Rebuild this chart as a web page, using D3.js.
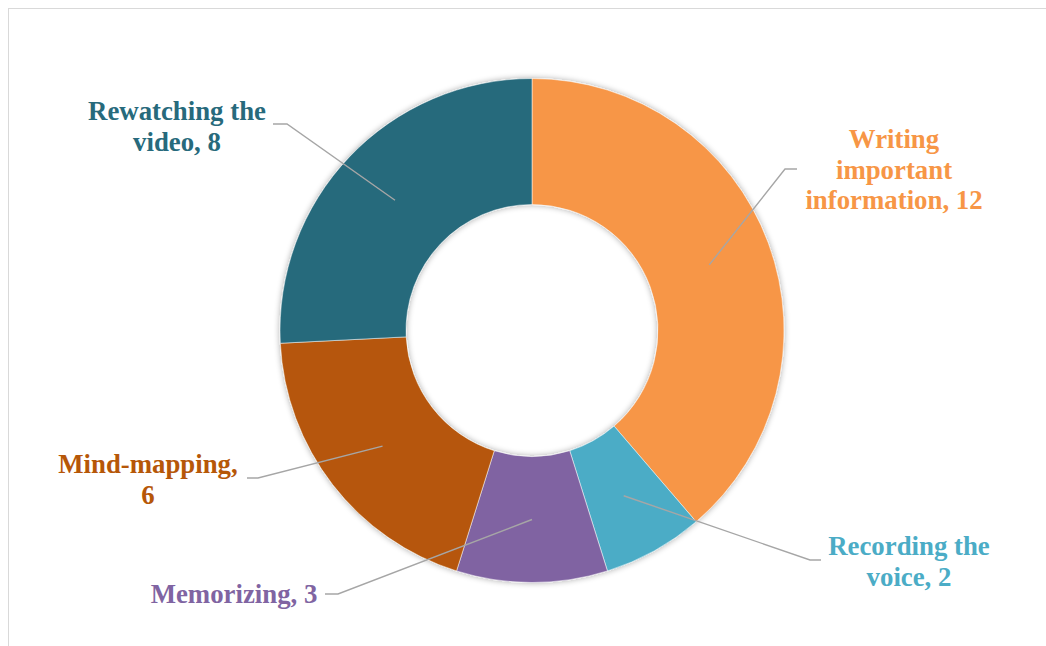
<!DOCTYPE html>
<html>
<head>
<meta charset="utf-8">
<script src="https://cdn.jsdelivr.net/npm/d3@7"></script>
<style>
  html, body { margin: 0; padding: 0; background: #fff; }
  svg { display: block; }
</style>
</head>
<body>
<svg id="chart" width="1046" height="646"></svg>
<script>
// ---- data ----
const categories = ["Writing important information", "Recording the voice", "Memorizing", "Mind-mapping", "Rewatching the video"];
const values = [12, 2, 3, 6, 8];
const colors = ["#F79646", "#4BACC6", "#8064A2", "#B65708", "#276A7C"];
// words per label line
const wrapWords = [[1, 1, 2], [2, 2], [2], [1, 1], [2, 2]];

// ---- layout (label placement) ----
const labelLayout = [
  { x: 894, y: 148, ex: 797, ey: 169, kx: 785 },
  { x: 909, y: 555, ex: 821, ey: 560, kx: 810 },
  { x: 234, y: 603, ex: 325, ey: 594, kx: 338 },
  { x: 148, y: 473, ex: 247, ey: 478, kx: 258 },
  { x: 177, y: 120, ex: 273, ey: 124, kx: 287 }
];
const cx = 532, cy = 330.5, outerR = 252, innerR = 126;
const lineH = 30.5;

const svg = d3.select("#chart");

// frame
svg.append("rect")
  .attr("x", 8.5).attr("y", 8.5)
  .attr("width", 1040).attr("height", 640)
  .attr("fill", "none").attr("stroke", "#d9d9d9").attr("stroke-width", 1);

// shadow filter
const defs = svg.append("defs");
const f = defs.append("filter").attr("id", "shadow")
  .attr("x", "-20%").attr("y", "-20%").attr("width", "140%").attr("height", "140%");
f.append("feGaussianBlur").attr("in", "SourceAlpha").attr("stdDeviation", 3).attr("result", "blur");
f.append("feComponentTransfer").attr("in", "blur").attr("result", "sh")
  .append("feFuncA").attr("type", "linear").attr("slope", 0.35);
const merge = f.append("feMerge");
merge.append("feMergeNode").attr("in", "sh");
merge.append("feMergeNode").attr("in", "SourceGraphic");

const data = categories.map((c, i) => ({ category: c, value: values[i], color: colors[i], i }));

const pie = d3.pie().value(d => d.value).sort(null);
const arcs = pie(data);
const arc = d3.arc().innerRadius(innerR).outerRadius(outerR);
const midArc = d3.arc().innerRadius(innerR).outerRadius(outerR);

const g = svg.append("g").attr("transform", `translate(${cx},${cy})`);

g.append("g").attr("filter", "url(#shadow)")
  .selectAll("path")
  .data(arcs)
  .join("path")
  .attr("d", arc)
  .attr("fill", d => d.data.color)
  .attr("stroke", "#ffffff")
  .attr("stroke-width", 0.5);

// leader lines
const leaders = svg.append("g");
arcs.forEach((a, i) => {
  const L = labelLayout[i];
  const [mx, my] = midArc.centroid(a);
  leaders.append("polyline")
    .attr("points", `${L.ex},${L.ey} ${L.kx},${L.ey} ${cx + mx},${cy + my}`)
    .attr("fill", "none")
    .attr("stroke", "#a6a6a6")
    .attr("stroke-width", 1.4);
});

// labels
const labels = svg.append("g")
  .attr("font-family", "'Liberation Serif', 'Times New Roman', serif")
  .attr("font-weight", "bold")
  .attr("font-size", 26.8)
  .attr("text-anchor", "middle");

data.forEach((d, i) => {
  const L = labelLayout[i];
  const words = `${d.category}, ${d.value}`.split(" ");
  const lines = [];
  let k = 0;
  wrapWords[i].forEach(n => { lines.push(words.slice(k, k + n).join(" ")); k += n; });
  const t = labels.append("text").attr("fill", d.color);
  lines.forEach((ln, j) => {
    t.append("tspan").attr("x", L.x).attr("y", L.y + j * lineH).text(ln);
  });
});
</script>
</body>
</html>
